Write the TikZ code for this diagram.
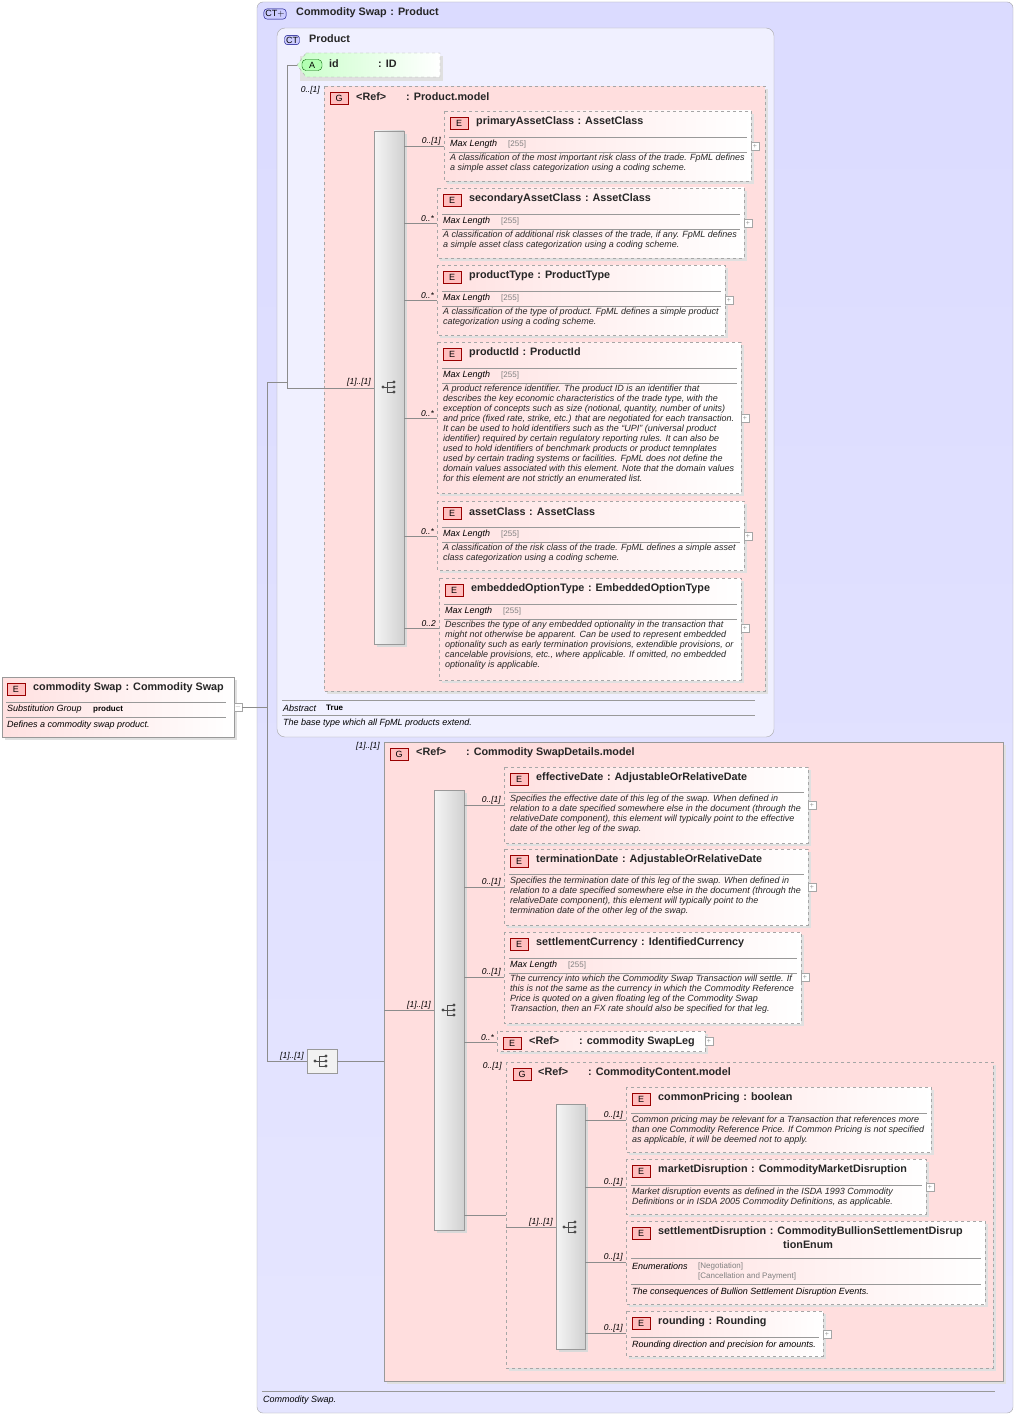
\documentclass[tikz,border=0pt]{standalone}
\usepackage{fontspec}
\setmainfont{Liberation Sans}
\begin{document}
\begin{tikzpicture}[x=1pt,y=-1pt,
  ttl/.style={anchor=west,font=\fontsize{10.8}{12.5}\selectfont\bfseries,inner sep=0,text=black!85},
  dsc/.style={anchor=north west,font=\fontsize{9}{10}\selectfont\itshape,inner sep=0,text=black!85,align=left},
  lbl/.style={anchor=west,font=\fontsize{9}{10}\selectfont\itshape,inner sep=0},
  gry/.style={anchor=west,font=\fontsize{8}{10}\selectfont,inner sep=0,text=black!50},
  mult/.style={anchor=south east,font=\fontsize{8.5}{10}\selectfont\itshape,inner sep=1},
  eboxst/.style={draw=black!35,dashed,left color=red!12,right color=white},
  badge/.style={draw=red!60!black,fill=red!25,minimum width=18,minimum height=12,inner sep=0,font=\fontsize{9}{10}\selectfont},
  conn/.style={draw=black!45,line width=0.5},
  rule/.style={draw=black!40,line width=0.6},
  plus/.style={draw=black!35,fill=white,minimum size=8,inner sep=0,font=\fontsize{7}{7}\selectfont,text=black!40},
  seqbar/.style={draw=black!40,left color=black!4,right color=black!18},
]
\newcommand\ebox[6]{%
  \fill[black!12] (#2+3,#3+3) rectangle (#4+3,#5+3);
  \draw[eboxst] (#2,#3) rectangle (#4,#5);
  \node[badge] (#1b) at (#2+15,#3+12) {E};
  \node[ttl] (#1) at (#2+32,#3+11) {#6};}
\newcommand\seqicon[2]{%
  \fill[black!70] (#1-7,#2) circle (1.6);
  \draw[black!70,line width=0.8] (#1-7,#2) -- (#1-3,#2) (#1-3,#2-5) -- (#1-3,#2+5) (#1-3,#2-5) -- (#1+3,#2-5) (#1-3,#2) -- (#1+3,#2) (#1-3,#2+5) -- (#1+3,#2+5);
  \fill[black!70] (#1+4,#2-5) circle (1.6) (#1+4,#2) circle (1.6) (#1+4,#2+5) circle (1.6);}
\useasboundingbox (0,0) rectangle (1017,1415);
\fill[white] (0,0) rectangle (1017,1415);
% outer CT
\draw[black!35,rounded corners=6,top color=blue!14,bottom color=blue!10] (257,2) rectangle (1013,1413);
\node[draw=blue!50!black,fill=blue!20,rounded corners=3,inner sep=1.5,font=\fontsize{9}{9}\selectfont] (ct1) at (275,14) {CT$+$};
\node[ttl] (cst) at (296,13) {Commodity Swap\,\,: Product};
\draw[rule] (262,1391) -- (995,1391);
\node[lbl] (csd) at (263,1400) {Commodity Swap.};
% Product CT
\draw[black!35,rounded corners=8,fill=blue!6] (277,28) rectangle (774,737);
\node[draw=blue!50!black,fill=blue!20,rounded corners=3,inner sep=1.5,font=\fontsize{9}{9}\selectfont] (ct2) at (292,40) {CT};
\node[ttl] (prt) at (309,39) {Product};
\draw[rule] (282,700) -- (755,700) (282,715) -- (755,715);
\node[lbl] (abs) at (283,708) {Abstract};
\node[anchor=west,inner sep=0,font=\fontsize{8}{9}\selectfont\bfseries] (tru) at (326,708) {True};
\node[lbl] (bdesc) at (283,723) {The base type which all FpML products extend.};
% attribute
\fill[black!12] (300,56) -- (443,56) -- (443,81) -- (300,81) -- cycle;
\draw[black!35,dashed,left color=green!20,right color=white] (306,53) -- (440,53) -- (440,77) -- (306,77) -- (297,65) -- cycle;
\node[draw=green!40!black,fill=green!30,rounded corners=4,minimum width=20,minimum height=11,inner sep=0,font=\fontsize{9}{9}\selectfont] (ab) at (312,65) {A};
\node[ttl] (idn) at (329,64) {id};
\node[ttl] (idt) at (378,64) {: ID};
% Product.model group
\fill[black!12] (327,89) rectangle (768,694);
\draw[black!35,dashed,fill=red!13] (324,86) rectangle (765,691);
\node[badge] (g1) at (339,98) {G};
\node[ttl] (g1t) at (356,97) {<Ref>\hspace{20pt}: Product.model};
\node[mult] at (321,95) {0..[1]};
\fill[black!15] (377,134) rectangle (407,647);
\draw[seqbar] (374,131) rectangle (404,644);
\seqicon{390}{387}
\node[mult] at (372,387) {[1]..[1]};
% elements
\ebox{pac}{444}{111}{751}{181}{primaryAssetClass\,\,: AssetClass}
\draw[rule] (449,137) -- (747,137) (449,152) -- (747,152);
\node[lbl] at (450,144) {Max Length}; \node[gry] at (508,144) {[255]};
\node[dsc] at (450,154) {A classification of the most important risk class of the trade. FpML defines\\a simple asset class categorization using a coding scheme.};
\node[plus] at (755,146) {+};
\draw[conn] (404,146) -- (444,146); \node[mult] at (442,146) {0..[1]};
\ebox{sac}{437}{188}{744}{258}{secondaryAssetClass\,\,: AssetClass}
\draw[rule] (442,214) -- (740,214) (442,229) -- (740,229);
\node[lbl] at (443,221) {Max Length}; \node[gry] at (501,221) {[255]};
\node[dsc] at (443,231) {A classification of additional risk classes of the trade, if any. FpML defines\\a simple asset class categorization using a coding scheme.};
\node[plus] at (748,223) {+};
\draw[conn] (404,223) -- (437,223); \node[mult] at (435,223) {0..*};
\ebox{pt}{437}{265}{725}{335}{productType\,\,: ProductType}
\draw[rule] (442,291) -- (721,291) (442,306) -- (721,306);
\node[lbl] at (443,298) {Max Length}; \node[gry] at (501,298) {[255]};
\node[dsc] at (443,308) {A classification of the type of product. FpML defines a simple product\\categorization using a coding scheme.};
\node[plus] at (729,300) {+};
\draw[conn] (404,300) -- (437,300); \node[mult] at (435,300) {0..*};
\ebox{pid}{437}{342}{741}{493}{productId\,\,: ProductId}
\draw[rule] (442,368) -- (737,368) (442,383) -- (737,383);
\node[lbl] at (443,375) {Max Length}; \node[gry] at (501,375) {[255]};
\node[dsc] at (443,385) {A product reference identifier. The product ID is an identifier that\\describes the key economic characteristics of the trade type, with the\\exception of concepts such as size (notional, quantity, number of units)\\and price (fixed rate, strike, etc.) that are negotiated for each transaction.\\It can be used to hold identifiers such as the ``UPI'' (universal product\\identifier) required by certain regulatory reporting rules. It can also be\\used to hold identifiers of benchmark products or product temnplates\\used by certain trading systems or facilities. FpML does not define the\\domain values associated with this element. Note that the domain values\\for this element are not strictly an enumerated list.};
\node[plus] at (745,418) {+};
\draw[conn] (404,418) -- (437,418); \node[mult] at (435,418) {0..*};
\ebox{ac}{437}{501}{744}{570}{assetClass\,\,: AssetClass}
\draw[rule] (442,527) -- (740,527) (442,542) -- (740,542);
\node[lbl] at (443,534) {Max Length}; \node[gry] at (501,534) {[255]};
\node[dsc] at (443,544) {A classification of the risk class of the trade. FpML defines a simple asset\\class categorization using a coding scheme.};
\node[plus] at (748,536) {+};
\draw[conn] (404,536) -- (437,536); \node[mult] at (435,536) {0..*};
\ebox{eot}{439}{578}{741}{680}{embeddedOptionType\,\,: EmbeddedOptionType}
\draw[rule] (444,604) -- (737,604) (444,619) -- (737,619);
\node[lbl] at (445,611) {Max Length}; \node[gry] at (503,611) {[255]};
\node[dsc] at (445,621) {Describes the type of any embedded optionality in the transaction that\\might not otherwise be apparent. Can be used to represent embedded\\optionality such as early termination provisions, extendible provisions, or\\cancelable provisions, etc., where applicable. If omitted, no embedded\\optionality is applicable.};
\node[plus] at (745,628) {+};
\draw[conn] (404,628) -- (439,628); \node[mult] at (437,628) {0..2};
% commoditySwap element
\fill[black!12] (5,680) rectangle (237,740);
\draw[black!40,left color=red!12,right color=white] (2,677) rectangle (234,737);
\node[badge] (csb) at (16,689) {E};
\node[ttl] (cs) at (33,688) {commodity Swap\,\,: Commodity Swap};
\draw[rule] (6,702) -- (226,702) (6,717) -- (226,717);
\node[lbl] at (7,709) {Substitution Group};
\node[anchor=west,inner sep=0,font=\fontsize{8}{9}\selectfont\bfseries] at (93,709) {product};
\node[lbl] at (7,725) {Defines a commodity swap product.};
\node[plus] (mn) at (238,707) {$-$};
% connectors
\draw[conn] (mn) -- (267,707);
\draw[conn] (267,382) -- (267,1061);
\draw[conn] (267,382) -- (287,382);
\draw[conn] (287,65) -- (287,388) -- (374,388);
\draw[conn] (287,65) -- (297,65);
\draw[conn] (267,1061) -- (307,1061);
\node[mult] at (305,1061) {[1]..[1]};
\draw[black!40,fill=black!5] (307,1049) rectangle (337,1073);
\seqicon{322}{1061}
\draw[conn] (337,1061) -- (384,1061);
% CommoditySwapDetails.model
\fill[black!12] (387,745) rectangle (1006,1384);
\draw[black!40,fill=red!13] (384,742) rectangle (1003,1381);
\node[badge] (g2) at (399,754) {G};
\node[ttl] at (416,753) {<Ref>\hspace{20pt}: Commodity SwapDetails.model};
\node[mult] at (381,751) {[1]..[1]};
\fill[black!15] (437,793) rectangle (467,1233);
\draw[seqbar] (434,790) rectangle (464,1230);
\seqicon{450}{1010}
\draw[conn] (384,1010) -- (434,1010); \node[mult] at (432,1010) {[1]..[1]};
\ebox{ed}{504}{767}{808}{843}{effectiveDate\,\,: AdjustableOrRelativeDate}
\draw[rule] (509,792) -- (804,792);
\node[dsc] at (510,795) {Specifies the effective date of this leg of the swap. When defined in\\relation to a date specified somewhere else in the document (through the\\relativeDate component), this element will typically point to the effective\\date of the other leg of the swap.};
\node[plus] at (812,805) {+};
\draw[conn] (464,805) -- (504,805); \node[mult] at (502,805) {0..[1]};
\ebox{td}{504}{849}{808}{925}{terminationDate\,\,: AdjustableOrRelativeDate}
\draw[rule] (509,874) -- (804,874);
\node[dsc] at (510,877) {Specifies the termination date of this leg of the swap. When defined in\\relation to a date specified somewhere else in the document (through the\\relativeDate component), this element will typically point to the\\termination date of the other leg of the swap.};
\node[plus] at (812,887) {+};
\draw[conn] (464,887) -- (504,887); \node[mult] at (502,887) {0..[1]};
\ebox{sc}{504}{932}{801}{1023}{settlementCurrency\,\,: IdentifiedCurrency}
\draw[rule] (509,958) -- (797,958) (509,973) -- (797,973);
\node[lbl] at (510,965) {Max Length}; \node[gry] at (568,965) {[255]};
\node[dsc] at (510,975) {The currency into which the Commodity Swap Transaction will settle. If\\this is not the same as the currency in which the Commodity Reference\\Price is quoted on a given floating leg of the Commodity Swap\\Transaction, then an FX rate should also be specified for that leg.};
\node[plus] at (805,977) {+};
\draw[conn] (464,977) -- (504,977); \node[mult] at (502,977) {0..[1]};
\ebox{csl}{497}{1031}{705}{1051}{<Ref>\hspace{20pt}: commodity SwapLeg}
\node[plus] at (709,1041) {+};
\draw[conn] (464,1042) -- (497,1042); \node[mult] at (495,1042) {0..*};
% CommodityContent.model
\fill[black!12] (509,1065) rectangle (996,1371);
\draw[black!35,dashed,fill=red!13] (506,1062) rectangle (993,1368);
\node[badge] (g3) at (522,1074) {G};
\node[ttl] at (538,1073) {<Ref>\hspace{20pt}: CommodityContent.model};
\node[mult] at (503,1071) {0..[1]};
\draw[conn] (464,1215) -- (506,1215);
\fill[black!15] (559,1107) rectangle (588,1352);
\draw[seqbar] (556,1104) rectangle (585,1349);
\seqicon{571}{1227}
\draw[conn] (506,1227) -- (556,1227); \node[mult] at (554,1227) {[1]..[1]};
\ebox{cp}{626}{1087}{931}{1152}{commonPricing\,\,: boolean}
\draw[rule] (631,1113) -- (927,1113);
\node[dsc] at (632,1116) {Common pricing may be relevant for a Transaction that references more\\than one Commodity Reference Price. If Common Pricing is not specified\\as applicable, it will be deemed not to apply.};
\draw[conn] (585,1120) -- (626,1120); \node[mult] at (624,1120) {0..[1]};
\ebox{md}{626}{1159}{926}{1214}{marketDisruption\,\,: CommodityMarketDisruption}
\draw[rule] (631,1185) -- (922,1185);
\node[dsc] at (632,1188) {Market disruption events as defined in the ISDA 1993 Commodity\\Definitions or in ISDA 2005 Commodity Definitions, as applicable.};
\node[plus] at (930,1187) {+};
\draw[conn] (585,1187) -- (626,1187); \node[mult] at (624,1187) {0..[1]};
\ebox{sd}{626}{1221}{985}{1304}{settlementDisruption\,\,: CommodityBullionSettlementDisrup}
\node[ttl] at (783,1245) {tionEnum};
\draw[rule] (631,1258) -- (981,1258) (631,1284) -- (981,1284);
\node[lbl] at (632,1266) {Enumerations};
\node[gry] at (698,1266) {[Negotiation]};
\node[gry] at (698,1276) {[Cancellation and Payment]};
\node[lbl] at (632,1292) {The consequences of Bullion Settlement Disruption Events.};
\draw[conn] (585,1262) -- (626,1262); \node[mult] at (624,1262) {0..[1]};
\ebox{rd}{626}{1311}{823}{1356}{rounding\,\,: Rounding}
\draw[rule] (631,1337) -- (819,1337);
\node[lbl] at (632,1345) {Rounding direction and precision for amounts.};
\node[plus] at (827,1334) {+};
\draw[conn] (585,1333) -- (626,1333); \node[mult] at (624,1333) {0..[1]};
\end{tikzpicture}
\end{document}
